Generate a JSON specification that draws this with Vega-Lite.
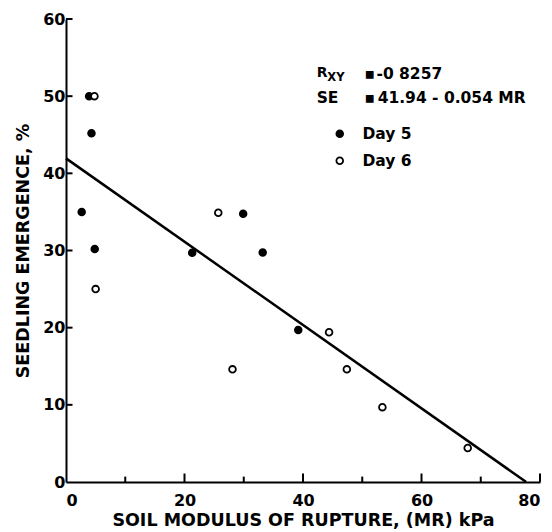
{
  "$schema": "https://vega.github.io/schema/vega-lite/v6.json",
  "width": 474,
  "height": 463,
  "autosize": "none",
  "padding": {"left": 66, "top": 19, "right": 12, "bottom": 50},
  "background": "white",
  "datasets": {
    "fit": [{"x": 0, "y": 41.94}, {"x": 77.67, "y": 0}],
    "yticks": [{"v": 10}, {"v": 20}, {"v": 30}, {"v": 40}, {"v": 50}, {"v": 60}],
    "xmajor": [{"v": 20}, {"v": 40}, {"v": 60}, {"v": 80}],
    "xminor": [{"v": 10}, {"v": 30}, {"v": 50}, {"v": 70}]
  },
  "config": {
    "view": {"stroke": null},
    "font": "DejaVu Sans",
    "axis": {
      "grid": false,
      "domainColor": "black",
      "domainWidth": 2,
      "tickColor": "black",
      "tickWidth": 2,
      "labelColor": "black",
      "labelFont": "DejaVu Sans",
      "labelFontWeight": "bold",
      "labelFontSize": 16,
      "titleColor": "black",
      "titleFont": "DejaVu Sans",
      "titleFontWeight": "bold",
      "titleFontSize": 17.5
    }
  },
  "layer": [
    {
      "data": {"name": "fit"},
      "mark": {"type": "line", "color": "black", "strokeWidth": 2.5},
      "encoding": {
        "x": {
          "field": "x", "type": "quantitative",
          "scale": {"domain": [0, 80], "nice": false},
          "axis": {
            "orient": "bottom",
            "values": [0, 20, 40, 60, 80],
            "ticks": false,
            "labelPadding": 10,
            "title": "SOIL MODULUS OF RUPTURE, (MR) kPa",
            "titlePadding": 3
          }
        },
        "y": {
          "field": "y", "type": "quantitative",
          "scale": {"domain": [0, 60], "nice": false},
          "axis": {
            "orient": "left",
            "values": [0, 10, 20, 30, 40, 50, 60],
            "ticks": false,
            "labelPadding": 1,
            "title": "SEEDLING EMERGENCE, %",
            "titlePadding": 10
          }
        }
      }
    },
    {
      "data": {"name": "yticks"},
      "mark": {"type": "rule", "color": "black", "strokeWidth": 2},
      "encoding": {
        "y": {"field": "v", "type": "quantitative"},
        "x": {"datum": 0},
        "x2": {"datum": 1.1}
      }
    },
    {
      "data": {"name": "xmajor"},
      "mark": {"type": "rule", "color": "black", "strokeWidth": 2},
      "encoding": {
        "x": {"field": "v", "type": "quantitative"},
        "y": {"datum": 0},
        "y2": {"datum": 1.1}
      }
    },
    {
      "data": {"name": "xminor"},
      "mark": {"type": "rule", "color": "black", "strokeWidth": 2},
      "encoding": {
        "x": {"field": "v", "type": "quantitative"},
        "y": {"datum": 0},
        "y2": {"datum": 0.7}
      }
    },
    {
      "data": {"values": [
        {"x": 2.65, "y": 35.0, "day": "Day 5"},
        {"x": 3.9, "y": 50.0, "day": "Day 5"},
        {"x": 4.3, "y": 45.2, "day": "Day 5"},
        {"x": 4.85, "y": 30.2, "day": "Day 5"},
        {"x": 21.3, "y": 29.7, "day": "Day 5"},
        {"x": 29.9, "y": 34.75, "day": "Day 5"},
        {"x": 33.2, "y": 29.75, "day": "Day 5"},
        {"x": 39.2, "y": 19.7, "day": "Day 5"},
        {"x": 4.8, "y": 50.0, "day": "Day 6"},
        {"x": 5.0, "y": 25.0, "day": "Day 6"},
        {"x": 25.7, "y": 34.9, "day": "Day 6"},
        {"x": 28.1, "y": 14.6, "day": "Day 6"},
        {"x": 44.4, "y": 19.4, "day": "Day 6"},
        {"x": 47.4, "y": 14.6, "day": "Day 6"},
        {"x": 53.4, "y": 9.7, "day": "Day 6"},
        {"x": 67.8, "y": 4.4, "day": "Day 6"}
      ]},
      "mark": {"type": "circle", "stroke": "black", "strokeWidth": 1.8, "size": 45, "opacity": 1},
      "encoding": {
        "x": {"field": "x", "type": "quantitative"},
        "y": {"field": "y", "type": "quantitative"},
        "fill": {
          "field": "day", "type": "nominal",
          "scale": {"domain": ["Day 5", "Day 6"], "range": ["black", "white"]},
          "legend": {
            "title": null,
            "orient": "none",
            "legendX": 266,
            "legendY": 107,
            "symbolType": "circle",
            "symbolSize": 45,
            "symbolStrokeColor": "black",
            "symbolStrokeWidth": 1.8,
            "symbolOpacity": 1,
            "labelFont": "DejaVu Sans",
            "labelFontWeight": "bold",
            "labelFontSize": 15.5,
            "labelColor": "black",
            "labelOffset": 15,
            "rowPadding": 10
          }
        }
      }
    },
    {
      "data": {"values": [
        {"t": "▪", "x": 50.4, "y": 52.9},
        {"t": "-0 8257", "x": 52.4, "y": 52.9},
        {"t": "SE", "x": 42.3, "y": 49.7},
        {"t": "▪", "x": 50.4, "y": 49.7},
        {"t": "41.94 - 0.054 MR", "x": 52.6, "y": 49.7}
      ]},
      "mark": {"type": "text", "align": "left", "baseline": "middle", "font": "DejaVu Sans", "fontWeight": "bold", "fontSize": 15.5, "color": "black"},
      "encoding": {
        "x": {"field": "x", "type": "quantitative"},
        "y": {"field": "y", "type": "quantitative"},
        "text": {"field": "t"}
      }
    },
    {
      "data": {"values": [{"t": "R", "x": 42.3, "y": 53.0}]},
      "mark": {"type": "text", "align": "left", "baseline": "middle", "font": "DejaVu Sans", "fontWeight": "bold", "fontSize": 14, "color": "black"},
      "encoding": {
        "x": {"field": "x", "type": "quantitative"},
        "y": {"field": "y", "type": "quantitative"},
        "text": {"field": "t"}
      }
    },
    {
      "data": {"values": [{"t": "XY", "x": 44.1, "y": 52.3}]},
      "mark": {"type": "text", "align": "left", "baseline": "middle", "font": "DejaVu Sans", "fontWeight": "bold", "fontSize": 11.5, "color": "black"},
      "encoding": {
        "x": {"field": "x", "type": "quantitative"},
        "y": {"field": "y", "type": "quantitative"},
        "text": {"field": "t"}
      }
    }
  ]
}
